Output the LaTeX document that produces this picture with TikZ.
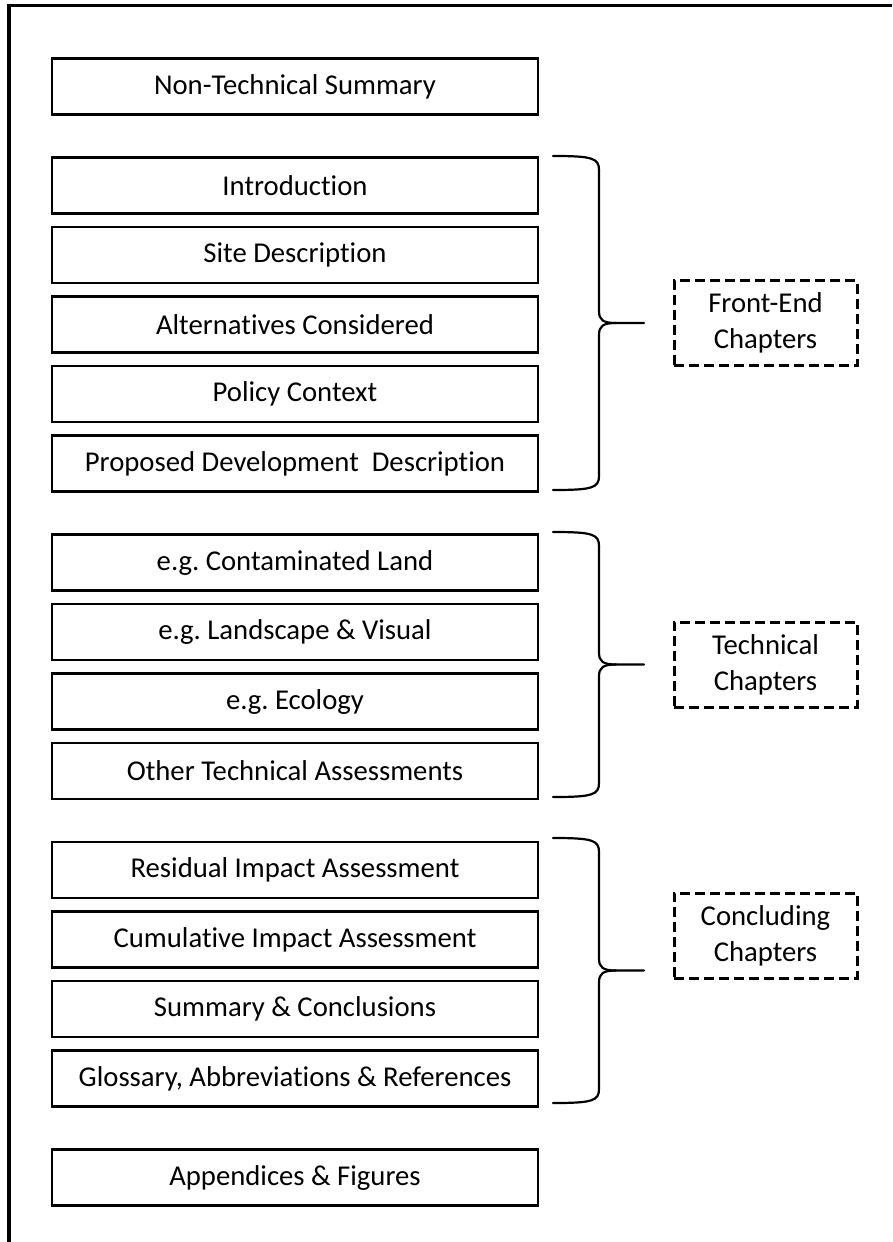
\documentclass[tikz,border=0pt]{standalone}
\usepackage{fontspec}
\setmainfont{Carlito}[Ligatures=NoCommon]
\frenchspacing
\usetikzlibrary{positioning}
\tikzset{
  chapbox/.style={draw, line width=2.2pt, minimum width=486pt, minimum height=56pt, inner sep=0pt, outer sep=0pt},
  chaplabel/.style={draw, line width=3pt, dash pattern=on 10pt off 5pt, minimum width=183pt, minimum height=85pt, inner sep=0pt, outer sep=0pt, align=center},
  bracestyle/.style={line width=2.2pt, line join=round, line cap=round}
}
% curly brace: top y, bottom y, name of its tip
\newcommand{\chapbrace}[3]{%
  \pgfmathsetmacro\bmid{(#1+#2)/2}
  \draw[bracestyle] (553,#1) .. controls (592,#1) and (599,#1+2) .. (599,#1+14) -- (599,\bmid-12)
    .. controls (599,\bmid-3) and (603,\bmid) .. (616,\bmid) -- (644,\bmid) coordinate (#3);
  \draw[bracestyle] (616,\bmid) .. controls (603,\bmid) and (599,\bmid+3) .. (599,\bmid+12)
    -- (599,#2-14) .. controls (599,#2-2) and (592,#2) .. (553,#2);
}
\begin{document}
\begin{tikzpicture}[x=1pt, y=-1pt, font=\fontsize{28.7}{36}\selectfont]
  \useasboundingbox (0,0) rectangle (892,1242);
  % outer frame (open at bottom and right)
  \draw[line width=3.5pt] (9,1242) -- (9,5.5) -- (892,5.5);
  % chapters
  \node[chapbox] (ntsum) at (295,86.5) {Non-Technical Summary};
  \node[chapbox, below=43pt of ntsum] (intro) {Introduction};
  \node[chapbox, below=13.5pt of intro] (site) {Site Description};
  \node[chapbox, below=13.5pt of site] (alt) {Alternatives Considered};
  \node[chapbox, below=13.5pt of alt] (policy) {Policy Context};
  \node[chapbox, below=13.5pt of policy] (propdev) {Proposed Development~ Description};
  \node[chapbox, below=43pt of propdev] (contam) {e.g. Contaminated Land};
  \node[chapbox, below=13.5pt of contam] (landvis) {e.g. Landscape \& Visual};
  \node[chapbox, below=13.5pt of landvis] (ecol) {e.g. Ecology};
  \node[chapbox, below=13.5pt of ecol] (othertech) {Other Technical Assessments};
  \node[chapbox, below=43pt of othertech] (resid) {Residual Impact Assessment};
  \node[chapbox, below=13.5pt of resid] (cumul) {Cumulative Impact Assessment};
  \node[chapbox, below=13.5pt of cumul] (summ) {Summary \& Conclusions};
  \node[chapbox, below=13.5pt of summ] (gloss) {Glossary, Abbreviations \& References};
  \node[chapbox, below=43pt of gloss] (append) {Appendices \& Figures};
  % braces
  \chapbrace{156}{490}{feTip}
  \chapbrace{532}{797}{tcTip}
  \chapbrace{838}{1103}{ccTip}
  % group labels
  \node[chaplabel, right=30pt of feTip] (frontend) {Front-End\\Chapters};
  \node[chaplabel, right=30pt of tcTip] (technical) {Technical\\Chapters};
  \node[chaplabel, right=30pt of ccTip, yshift=35pt] (concluding) {Concluding\\Chapters};
\end{tikzpicture}
\end{document}
